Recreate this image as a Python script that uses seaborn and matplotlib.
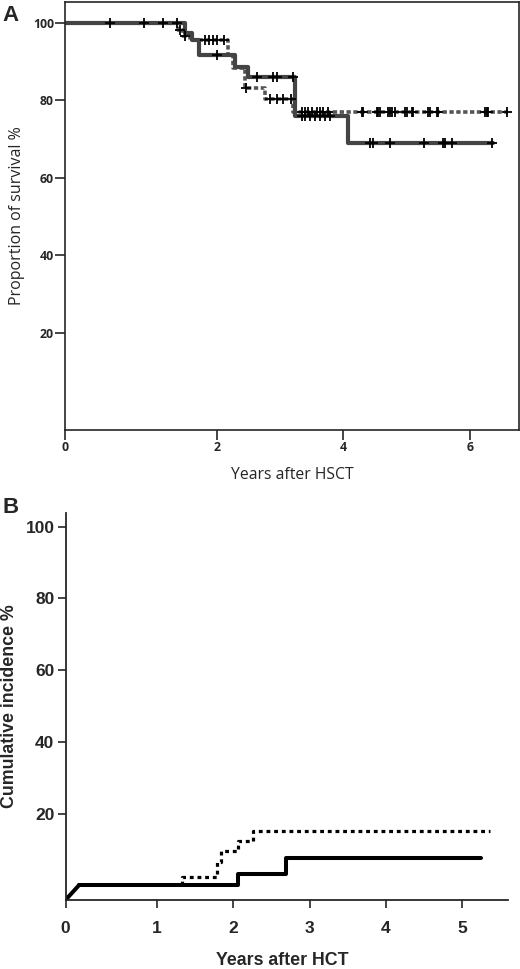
import numpy as np
import pandas as pd
import matplotlib
matplotlib.use("Agg")
import matplotlib.pyplot as plt
import seaborn as sns

# ---- panel A: overall survival (Kaplan-Meier), years after HSCT ----
a_solid_t = [0, 1.58, 1.67, 1.77, 2.29, 2.49, 3.24, 4.07, 6.37]
a_solid_s = [100, 97.3, 95.5, 91.6, 88.6, 86.0, 76.0, 68.9, 68.9]
a_dot_t = [0, 1.49, 1.55, 1.65, 2.18, 2.26, 2.45, 2.76, 3.20, 6.60]
a_dot_s = [100, 98.1, 96.5, 95.5, 91.7, 88.2, 83.1, 80.2, 77.0, 77.0]
a_solid_cens = [0.59, 1.04, 1.29, 1.48, 2.00, 2.63, 2.89, 2.95, 3.20, 3.35, 3.39,
                3.47, 3.55, 3.63, 3.71, 3.79, 4.42, 4.47, 4.74, 5.28, 5.58, 5.61,
                5.72, 6.35]
a_dot_cens = [1.52, 1.58, 1.84, 1.90, 1.95, 2.01, 2.12, 2.47, 2.84, 2.95, 3.05,
              3.17, 3.35, 3.39, 3.44, 3.51, 3.58, 3.63, 3.68, 3.76, 4.30, 4.31,
              4.53, 4.55, 4.58, 4.71, 4.74, 4.77, 4.82, 4.98, 5.01, 5.09, 5.10,
              5.34, 5.37, 5.48, 5.50, 6.24, 6.27, 6.29, 6.59]
a_xticks = [0, 2, 4, 6]
a_yticks = [20, 40, 60, 80, 100]

# ---- panel B: cumulative incidence, years after HCT ----
b_solid_t = [0, 0.15, 2.06, 2.69, 5.24]
b_solid_v = [0, 3.5, 6.0, 9.8, 9.8]
b_dot_t = [1.33, 1.33, 1.79, 1.84, 2.06, 2.26, 5.37]
b_dot_v = [3.5, 5.3, 8.9, 11.4, 13.8, 16.1, 16.1]
b_xticks = [0, 1, 2, 3, 4, 5]
b_yticks = [20, 40, 60, 80, 100]


def offset_scale(w, e):
    # first tick interval drawn wider (origin offset as in the original graph)
    def fwd(v):
        v = np.asarray(v, float)
        return np.where(v < w, v * (w + e) / w, v + e)

    def inv(u):
        u = np.asarray(u, float)
        return np.where(u < w + e, u * w / (w + e), u - e)

    return fwd, inv


def step_value(times, ev_t, ev_v):
    idx = np.searchsorted(ev_t, times, side="right") - 1
    return np.asarray(ev_v)[idx]


sns.set_style("ticks")
plt.rcParams["font.family"] = ["Open Sans", "DejaVu Sans"]
arial = ["Liberation Sans", "DejaVu Sans"]

fig = plt.figure(figsize=(5.2, 9.69), dpi=100)

# panel A
ax = fig.add_axes([0.125, 0.5562, 0.873, 0.4422])
ax.set_xscale("function", functions=offset_scale(2, 0.4))
ax.set_yscale("function", functions=offset_scale(20, 5))

df_dot = pd.DataFrame({"t": a_dot_t, "s": a_dot_s})
sns.lineplot(data=df_dot, x="t", y="s", drawstyle="steps-post", estimator=None,
             sort=False, color="#555555", lw=2.6, linestyle=(0, (1.2, 0.7)), ax=ax)
df_solid = pd.DataFrame({"t": a_solid_t, "s": a_solid_s})
sns.lineplot(data=df_solid, x="t", y="s", drawstyle="steps-post", estimator=None,
             sort=False, color="#444444", lw=3.0, ax=ax)

cens = pd.concat([
    pd.DataFrame({"t": a_solid_cens, "s": step_value(a_solid_cens, a_solid_t, a_solid_s)}),
    pd.DataFrame({"t": a_dot_cens, "s": step_value(a_dot_cens, a_dot_t, a_dot_s)}),
])
sns.scatterplot(data=cens, x="t", y="s", marker="+", s=45, color="black",
                linewidth=1.3, ax=ax, zorder=5)

ax.set_xlim(0, 6.78)
ax.set_ylim(0, 105.4)
ax.set_xticks(a_xticks)
ax.set_yticks(a_yticks)
ax.set_xticklabels([str(v) for v in a_xticks])
ax.set_yticklabels([str(v) for v in a_yticks])
for sp in ax.spines.values():
    sp.set_visible(True)
    sp.set_linewidth(1.2)
ax.tick_params(direction="out", length=7, width=1.2, pad=1, labelsize=8.8)
for lab in ax.get_xticklabels() + ax.get_yticklabels():
    lab.set_fontweight("bold")
ax.set_xlabel("Years after HSCT", fontsize=11.3)
ax.set_ylabel("Proportion of survival %", fontsize=11.5)
ax.xaxis.set_label_coords(0.5, -0.086)
ax.yaxis.set_label_coords(-0.088, 0.5)

# panel B
bx = fig.add_axes([0.126, 0.0712, 0.851, 0.3997])
bx.set_xscale("function", functions=offset_scale(1, 0.2))
bx.set_yscale("function", functions=offset_scale(20, 4))

sns.lineplot(x=b_dot_t, y=b_dot_v, drawstyle="steps-post", estimator=None, sort=False,
             color="black", lw=2.3, linestyle=(0, (1.2, 1.2)), ax=bx)
sns.lineplot(x=b_solid_t[:2], y=b_solid_v[:2], estimator=None, sort=False,
             color="black", lw=2.9, ax=bx)
sns.lineplot(x=b_solid_t[1:], y=b_solid_v[1:], drawstyle="steps-post", estimator=None,
             sort=False, color="black", lw=2.9, ax=bx)

bx.set_xlim(0, 5.6)
bx.set_ylim(0, 103.9)
bx.set_xticks(b_xticks)
bx.set_yticks(b_yticks)
bx.set_xticklabels([str(v) for v in b_xticks])
bx.set_yticklabels([str(v) for v in b_yticks])
sns.despine(ax=bx)
for sp in ["left", "bottom"]:
    bx.spines[sp].set_linewidth(1.3)
bx.tick_params(direction="out", length=6, width=1.2, labelsize=12.5)
bx.tick_params(axis="x", pad=9)
bx.tick_params(axis="y", pad=2)
for lab in bx.get_xticklabels() + bx.get_yticklabels():
    lab.set_fontfamily(arial)
    lab.set_fontweight("bold")
bx.set_xlabel("Years after HCT", fontsize=12.8, fontweight="bold", family=arial)
bx.set_ylabel("Cumulative incidence %", fontsize=12.8, fontweight="bold", family=arial)
bx.xaxis.set_label_coords(0.49, -0.135)
bx.yaxis.set_label_coords(-0.108, 0.5)

fig.text(0.004, 0.995, "A", ha="left", va="top", fontsize=16, fontweight="bold",
         family=arial)
fig.text(0.004, 0.487, "B", ha="left", va="top", fontsize=16, fontweight="bold",
         family=arial)

fig.savefig("out.png", dpi=100)
